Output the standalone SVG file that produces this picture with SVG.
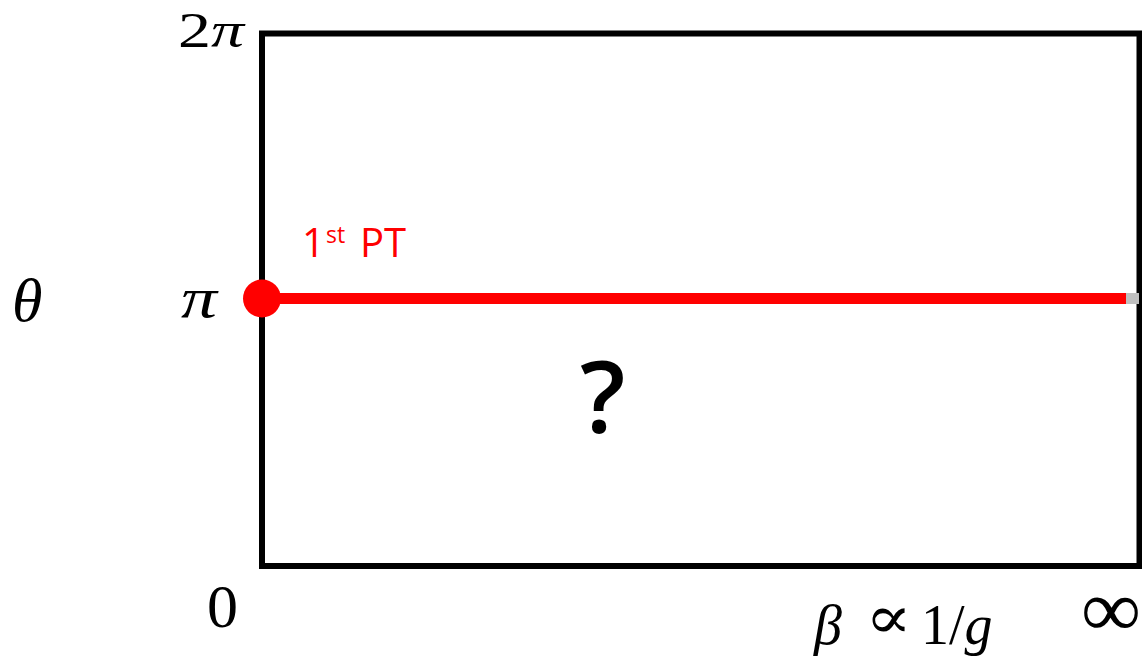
<svg xmlns="http://www.w3.org/2000/svg" width="1142" height="662" viewBox="0 0 1142 662">
<style>
.m{font-family:"Liberation Serif","DejaVu Serif",serif;fill:#000}
.i{font-style:italic}
.red{font-family:"Open Sans","Liberation Sans",sans-serif;fill:#ff0000}
</style>
<rect width="1142" height="662" fill="#fff"/>
<g id="frame">
<rect x="262" y="33.5" width="877.5" height="532.5" fill="none" stroke="#000" stroke-width="6"/>
</g>
<g id="connectors">
<line x1="262" y1="298.5" x2="1127" y2="298.5" stroke="#ff0000" stroke-width="11"/>
<rect x="1126" y="293" width="13" height="11" fill="#bfbfbf"/>
</g>
<g id="pt-node">
<circle cx="262" cy="298.5" r="19" fill="#ff0000"/>
<text class="red" x="302" y="257" font-size="40">1</text>
<text class="red" x="326" y="243" font-size="23">st</text>
<text class="red" x="360" y="257" font-size="40">PT</text>
</g>
<g id="labels">
<text class="m" x="178" y="47" font-size="50" textLength="66" lengthAdjust="spacingAndGlyphs">2<tspan class="i">π</tspan></text>
<text class="m i" x="12" y="321" font-size="62">θ</text>
<text class="m i" x="181" y="317" font-size="58" textLength="36" lengthAdjust="spacingAndGlyphs">π</text>
<text class="m" x="207" y="627" font-size="62">0</text>
<text class="m i" x="814" y="644" font-size="56">β</text>
<text x="865" y="638" font-family="DejaVu Sans, DejaVu Serif, sans-serif" font-weight="200" font-size="60" textLength="47" lengthAdjust="spacingAndGlyphs">∝</text>
<text class="m" x="921" y="644" font-size="56">1/<tspan class="i">g</tspan></text>
<text class="m" x="1081" y="636" font-size="80" textLength="60" lengthAdjust="spacingAndGlyphs">∞</text>
<text x="580" y="433" font-family="Open Sans, Liberation Sans, sans-serif" font-size="100" font-weight="600" fill="#000">?</text>
</g>
</svg>
